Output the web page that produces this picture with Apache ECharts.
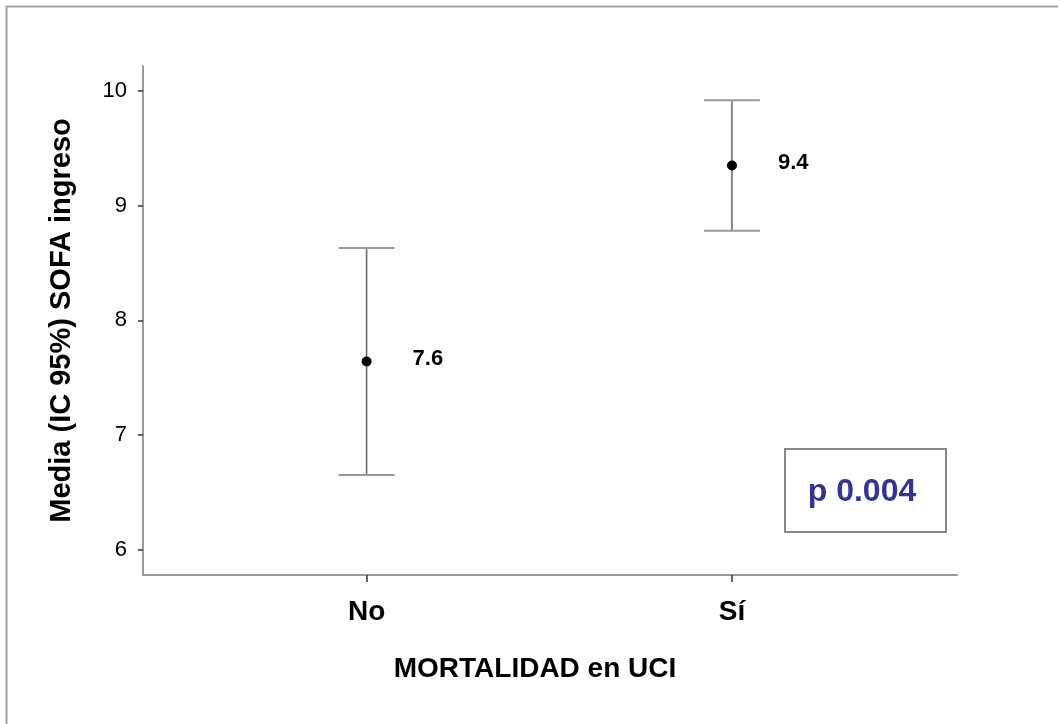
<!DOCTYPE html>
<html>
<head>
<meta charset="utf-8">
<script src="https://cdn.jsdelivr.net/npm/echarts@6/dist/echarts.min.js"></script>
<style>html,body{margin:0;padding:0;background:#fff;}#c{width:1058px;height:724px;}</style>
</head>
<body>
<div id="c"></div>
<script>
const categories = ['No', 'Sí'];
const means = [7.64, 9.35];
const lower = [6.65, 8.78];
const upper = [8.63, 9.92];
const valueLabels = ['7.6', '9.4'];
const yTicks = [6, 7, 8, 9, 10];
const pText = 'p 0.004';

const data = categories.map((c, i) => [i + 1, means[i], lower[i], upper[i], valueLabels[i]]);

const chart = echarts.init(document.getElementById('c'), null, {renderer: 'canvas'});
const font = 'Liberation Sans, Arial, sans-serif';
chart.setOption({
  animation: false,
  backgroundColor: '#fff',
  grid: {left: 143, top: 66, right: 101, bottom: 149},
  xAxis: {
    type: 'value', min: 0.388, max: 2.616,
    splitLine: {show: false},
    axisLine: {show: true, lineStyle: {color: '#999', width: 2}},
    axisTick: {show: true, customValues: [1, 2], length: 7, lineStyle: {color: '#333', width: 1.5}},
    axisLabel: {customValues: [1, 2], formatter: v => categories[Math.round(v) - 1] || '', color: '#000', fontFamily: font, fontSize: 28, fontWeight: 'bold', margin: 23},
    name: 'MORTALIDAD en UCI', nameLocation: 'middle', nameGap: 80,
    nameTextStyle: {color: '#000', fontFamily: font, fontSize: 28, fontWeight: 'bold', padding: [0, 30, 0, 0]}
  },
  yAxis: {
    type: 'value', min: 5.778, max: 10.218,
    splitLine: {show: false},
    axisLine: {show: true, lineStyle: {color: '#999', width: 2}},
    axisTick: {show: true, customValues: yTicks, length: 5, lineStyle: {color: '#333', width: 1.5}},
    axisLabel: {customValues: yTicks, color: '#000', fontFamily: font, fontSize: 22, margin: 16},
    name: 'Media (IC 95%) SOFA ingreso', nameLocation: 'middle', nameGap: 67, nameRotate: 90,
    nameTextStyle: {color: '#000', fontFamily: font, fontSize: 29, fontWeight: 'bold'}
  },
  series: [{
    type: 'custom',
    data: data,
    renderItem: function (params, api) {
      const x = api.value(0);
      const m = api.coord([x, api.value(1)]);
      const lo = api.coord([x, api.value(2)]);
      const hi = api.coord([x, api.value(3)]);
      const hw = 28;
      return {
        type: 'group',
        children: [
          {type: 'line', shape: {x1: hi[0], y1: hi[1], x2: lo[0], y2: lo[1]}, style: {stroke: '#666', lineWidth: 1.5}},
          {type: 'line', shape: {x1: hi[0] - hw, y1: hi[1], x2: hi[0] + hw, y2: hi[1]}, style: {stroke: '#999', lineWidth: 2}},
          {type: 'line', shape: {x1: lo[0] - hw, y1: lo[1], x2: lo[0] + hw, y2: lo[1]}, style: {stroke: '#999', lineWidth: 2}},
          {type: 'circle', shape: {cx: m[0], cy: m[1], r: 5}, style: {fill: '#000'}},
          {type: 'text', x: m[0] + 46, y: m[1] - 3, style: {text: api.value(4), fill: '#000', font: 'bold 22px ' + font, textAlign: 'left', textVerticalAlign: 'middle'}}
        ]
      };
    }
  }],
  graphic: [
    {type: 'rect', shape: {x: 6.5, y: 6.5, width: 1200, height: 900}, style: {fill: 'none', stroke: '#a0a0a0', lineWidth: 2}, silent: true},
    {type: 'rect', shape: {x: 785, y: 449, width: 161, height: 83}, style: {fill: '#fff', stroke: '#888', lineWidth: 2}},
    {type: 'text', x: 862, y: 492, style: {text: pText, fill: '#333399', font: 'bold 32px ' + font, textAlign: 'center', textVerticalAlign: 'middle'}}
  ]
});
</script>
</body>
</html>
